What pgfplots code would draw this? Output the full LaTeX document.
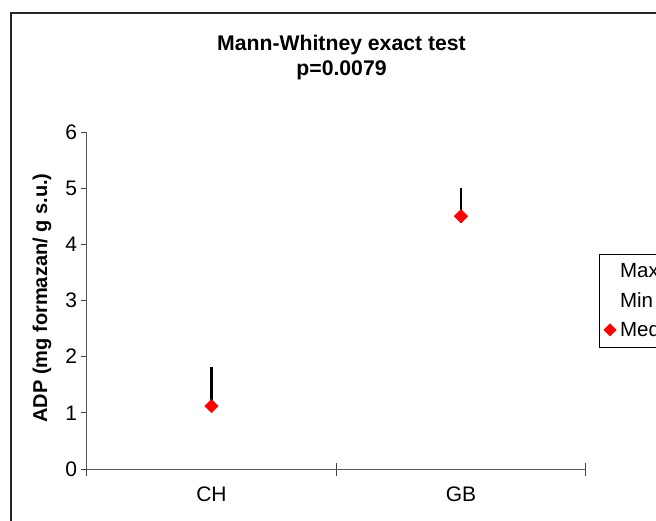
\documentclass[border=0pt]{standalone}
\usepackage{pgfplots}
\pgfplotsset{compat=1.18}
\usepackage{fontspec}
\setmainfont{Liberation Sans}
\begin{document}
\begin{tikzpicture}[x=1pt,y=1pt]
\path[use as bounding box] (0,0) rectangle (656,520);
\clip (0,0) rectangle (656,520);
\draw[line width=2pt, black!85] (11,-10) -- (11,507) -- (670,507);
\begin{axis}[
  at={(86.7pt,51pt)}, anchor=south west,
  scale only axis, width=499pt, height=337pt,
  xmin=0, xmax=2, ymin=0, ymax=6,
  axis lines=left, axis line style={-, black!65, line width=1pt},
  tick align=outside,
  xtick={0.5,1.5}, xticklabels={CH,GB},
  major x tick style={draw=none},
  minor xtick={0,1,2},
  minor tick length=13pt,
  minor x tick style={yshift=6.5pt, black!75, line width=1pt},
  ytick={0,1,2,3,4,5,6},
  major tick length=6pt,
  y tick style={black!75, line width=1pt},
  ticklabel style={font=\fontsize{21}{25}\selectfont},
  xticklabel style={yshift=-8pt},
  /pgf/number format/assume math mode=true,
  clip=false,
  legend style={at={(1.026,0.637)}, anchor=north west, draw=black, line width=0.8pt,
    font=\fontsize{20.5}{24}\selectfont, row sep=9pt, inner xsep=3pt, inner ysep=7pt},
  legend cell align=left,
  legend image code/.code={\path[draw=none,fill=none] (0pt,-3pt) (16pt,3pt); \path[#1, mark size=4.2pt] plot[only marks] coordinates {(8pt,0pt)};},
]
\addplot[black, line width=2.6pt, forget plot] coordinates {(0.5,1.12) (0.5,1.82)};
\addplot[black, line width=2.6pt, forget plot] coordinates {(1.5,4.38) (1.5,5.0)};
\addplot[draw=none, mark=none] coordinates {(0.5,1.82) (1.5,5.0)};
\addplot[draw=none, mark=none] coordinates {(0.5,1.12) (1.5,4.38)};
\addplot[only marks, mark=square*, mark options={rotate=45, fill=red, draw=red}, mark size=4.8pt] coordinates {(0.5,1.12) (1.5,4.5)};
\legend{Max, Min, Med}
\end{axis}
\node[font=\bfseries\fontsize{21.2}{25}\selectfont] at (341.5,475) {Mann-Whitney exact test};
\node[font=\bfseries\fontsize{21.2}{25}\selectfont] at (341.5,450) {p=0.0079};
\node[rotate=90, font=\bfseries\fontsize{20}{24}\selectfont] at (42,222) {ADP (mg formazan/ g s.u.)};
\end{tikzpicture}
\end{document}
